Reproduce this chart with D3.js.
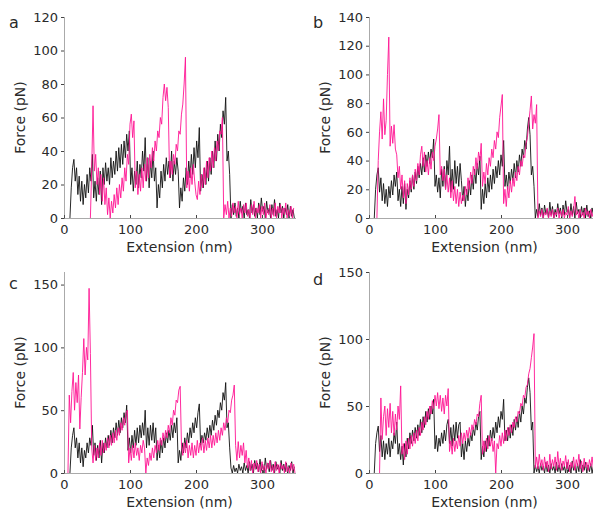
<!DOCTYPE html>
<html>
<head>
<meta charset="utf-8">
<script src="https://cdn.jsdelivr.net/npm/d3@7"></script>
<style>
  html, body { margin: 0; padding: 0; background: #fff; }
  svg { display: block; }
  text { font-family: "DejaVu Sans", sans-serif; fill: #2a2a2a; }
</style>
</head>
<body>
<svg id="chart" width="593" height="510"></svg>
<script>
// Force–extension traces, sampled every 2 nm from each trace's start extension.
const STEP = 2;

// Panel a
const aBlackStart = 9;
const aBlack = [0,18,30,35,22,30,14,25,10,22,8,20,12,26,15,30,22,38,12,22,10,24,14,28,8,30,20,33,22,30,20,36,24,34,26,40,28,42,30,44,32,46,36,50,40,52,
  20,30,16,28,20,34,18,32,24,40,28,48,22,36,18,34,24,40,22,30,6,20,12,28,18,32,22,36,26,34,24,40,22,34,26,36,28,6,18,10,24,16,30,20,34,24,38,26,42,30,46,36,54,
  16,26,18,30,20,34,22,36,26,40,30,46,34,50,40,56,48,64,56,72,34,40,26,0,8,2,9,1,6,0,10,3,7,0,9,2,5,0,11,3,8,1,6,0,9,2,12,4,7,0,10,3,6,0,8,2,11,1,5,0,9,3,7,0,6,2,8,0,7,1,5,0];
const aPinkStart = 40;
const aPink = [0,30,67,28,38,20,30,14,26,10,24,8,18,2,12,0,10,3,14,6,18,8,20,12,24,16,30,22,38,32,56,62,48,58,18,28,14,26,16,30,18,32,22,36,24,38,30,42,34,46,40,52,48,60,56,72,80,70,78,66,
  24,34,26,38,32,44,40,52,50,62,68,80,96,18,28,16,30,20,32,22,14,11,22,14,26,18,30,20,34,24,36,28,40,30,42,34,46,40,52,50,60,
  0,8,2,10,0,6,1,9,3,7,0,10,2,6,0,8,3,9,1,5,0,8,2,10,0,6,3,8,0,7,2,9,0,5,2,8,0,6,1,9,0,7,3,8,0,6,2,9,0,5,1,7,0,6];

// Panel b
const bBlackStart = 8;
const bBlack = [0,20,30,35,18,28,12,24,10,20,8,22,14,26,16,30,22,32,12,20,8,22,10,24,6,20,14,26,18,30,20,32,24,36,28,38,30,42,32,44,36,46,38,48,42,55,
  22,30,18,28,14,34,22,36,20,40,30,50,18,34,20,40,24,36,22,38,26,12,22,8,20,12,26,16,30,20,34,24,38,30,43,6,20,10,24,14,28,18,30,20,34,24,36,28,40,30,44,36,54,
  22,30,20,32,24,34,26,38,28,40,32,44,36,48,42,54,48,62,70,58,30,36,22,0,6,1,10,2,7,0,9,3,6,0,11,2,8,0,6,1,10,3,7,0,9,2,12,4,6,0,10,2,8,0,11,3,6,0,8,2,7,0,9,1,5,0,7,2];
const bPinkStart = 12;
const bPink = [0,40,60,74,55,83,58,68,100,126,50,64,52,65,48,44,28,36,20,30,14,26,10,24,16,28,20,30,22,34,26,38,30,44,50,36,46,32,40,30,42,34,46,40,50,55,62,72,
  30,36,26,34,20,30,18,28,14,26,12,22,10,20,8,18,10,16,12,22,16,28,20,32,24,36,30,42,34,46,40,52,22,32,24,38,30,42,36,48,42,54,48,60,56,70,78,86,
  10,20,8,22,14,26,18,28,22,32,26,36,30,40,36,44,42,52,56,66,75,85,62,72,66,79,0,5,1,6,0,4,2,7,0,5,1,6,0,4,2,7,0,5,1,6,0,4,2,8,0,5,1,6,15,2,5,0,6,1,4,0,7,2,5,0,6,1,4];

// Panel c
const cBlackStart = 9;
const cBlack = [0,20,30,36,20,28,12,24,8,20,5,18,12,24,16,28,22,38,14,24,10,22,12,26,8,24,16,28,20,30,22,34,24,36,28,40,30,42,32,44,36,48,40,54,
  18,28,16,30,20,34,22,36,24,38,28,40,30,50,20,36,22,38,26,40,24,36,10,22,12,26,16,28,20,32,24,34,26,38,28,40,32,44,8,18,10,24,16,28,20,32,24,36,28,40,32,44,36,48,55,
  22,30,24,32,26,36,28,38,30,42,34,46,38,50,44,56,50,64,58,72,36,40,20,4,0,6,1,4,0,7,2,5,0,8,2,6,0,9,2,7,0,10,3,8,1,11,2,7,0,12,3,8,1,10,2,7,0,9,3,6,0,10,2,7,1,8,0,6,2,9,0,5];
const cPinkStart = 6;
const cPink = [0,62,40,65,80,50,72,56,78,35,60,80,107,78,100,90,147,95,20,8,22,10,20,12,24,14,26,16,24,18,28,20,30,22,32,24,34,26,36,30,40,34,44,38,48,50,
  8,20,10,22,12,24,14,20,10,22,16,26,20,0,12,6,16,10,20,12,22,16,26,18,28,22,32,26,34,28,38,32,44,38,50,46,58,56,66,69,
  22,14,24,16,26,12,22,14,24,12,22,14,26,16,24,18,28,16,26,18,28,20,30,20,30,22,32,24,34,26,36,30,40,34,44,40,50,48,58,62,70,
  22,10,25,12,22,14,24,8,18,4,12,2,10,0,8,3,10,1,7,0,9,2,6,0,8,3,10,1,6,0,9,2,7,0,8,3,6,0,9,1,5,0,8,2,7,0];

// Panel d
const dBlackStart = 8;
const dBlack = [0,22,30,35,16,28,12,24,10,22,14,26,12,24,18,30,22,38,14,22,10,20,6,22,12,26,18,30,22,32,24,34,26,36,28,40,30,42,34,46,38,48,40,50,44,55,
  18,28,16,26,20,30,22,32,24,36,40,22,34,20,36,24,38,26,36,38,12,22,10,24,16,26,20,30,24,34,28,38,32,42,46,10,20,12,24,16,28,20,32,24,34,26,38,30,42,34,46,40,55,
  24,32,24,34,26,36,28,40,32,42,34,46,38,50,44,56,52,64,71,60,32,38,0,6,1,5,0,7,2,5,0,8,1,6,0,7,2,5,0,8,1,6,0,7,2,5,0,8,1,6,0,9,2,5,0,7,1,10,0,6,2,8,0,6,1,7,0,5];
const dPinkStart = 16;
const dPink = [0,56,25,42,50,28,48,34,52,30,46,28,44,32,50,40,65,14,22,10,24,14,26,18,28,20,30,22,32,24,34,28,38,32,42,36,46,40,50,44,54,48,58,50,60,48,58,46,56,44,58,50,63,
  16,24,14,26,16,24,18,28,20,30,22,30,24,32,26,34,28,36,32,40,36,44,42,52,58,14,24,16,26,18,28,20,26,16,24,0,22,18,28,20,30,22,32,24,34,28,36,30,38,34,42,38,46,44,52,50,58,56,64,66,74,78,86,94,104,
  4,12,3,14,5,10,2,12,4,9,1,14,3,10,5,12,2,16,4,11,2,9,5,13,3,10,1,8,4,12,2,10,5,14,3,9,1,11,4,8,2,10,5,12,3];

// Tick values
const xTickValues = [0, 100, 200, 300];
const aYTicks = [0, 20, 40, 60, 80, 100, 120];
const bYTicks = [0, 20, 40, 60, 80, 100, 120, 140];
const cYTicks = [0, 50, 100, 150];
const dYTicks = [0, 50, 100, 150];

const xLabel = "Extension (nm)";
const yLabel = "Force (pN)";

const BLACK = "#111111";
const PINK = "#ff1493";

const panels = [
  { letter: "a", left: 64,  top: 17,  yMax: 120, yTicks: aYTicks, letterX: 9,   letterY: 28,
    traces: [[aBlackStart, aBlack, BLACK], [aPinkStart, aPink, PINK]] },
  { letter: "b", left: 369, top: 17,  yMax: 140, yTicks: bYTicks, letterX: 313, letterY: 28,
    traces: [[bBlackStart, bBlack, BLACK], [bPinkStart, bPink, PINK]] },
  { letter: "c", left: 64,  top: 272, yMax: 160, yTicks: cYTicks, letterX: 9,   letterY: 289,
    traces: [[cBlackStart, cBlack, BLACK], [cPinkStart, cPink, PINK]] },
  { letter: "d", left: 369, top: 272, yMax: 150, yTicks: dYTicks, letterX: 313, letterY: 285,
    traces: [[dBlackStart, dBlack, BLACK], [dPinkStart, dPink, PINK]] }
];

const W = 231, H = 201;
const svg = d3.select("#chart");

panels.forEach((p, pi) => {
  const g = svg.append("g").attr("transform", `translate(${p.left},${p.top})`);
  const x = d3.scaleLinear().domain([0, 350]).range([0, W]);
  const y = d3.scaleLinear().domain([0, p.yMax]).range([H, 0]);

  const clipId = "clip" + pi;
  g.append("clipPath").attr("id", clipId)
    .append("rect").attr("x", 0).attr("y", -1).attr("width", W + 1).attr("height", H + 1);

  const line = d3.line().x(d => x(d[0])).y(d => y(d[1]));
  const plot = g.append("g").attr("clip-path", `url(#${clipId})`);
  p.traces.forEach(([start, vals, color]) => {
    const pts = vals.map((v, i) => [start + i * STEP, v]);
    plot.append("path")
      .datum(pts)
      .attr("fill", "none")
      .attr("stroke", color)
      .attr("stroke-width", 0.9)
      .attr("stroke-linejoin", "miter")
      .attr("d", line);
  });

  // axes
  const xAxis = d3.axisBottom(x).tickValues(xTickValues).tickSizeInner(-3).tickSizeOuter(0).tickPadding(7);
  const yAxis = d3.axisLeft(y).tickValues(p.yTicks).tickSizeInner(3).tickSizeOuter(0).tickPadding(3);

  const gx = g.append("g").attr("transform", `translate(0,${H})`).call(xAxis);
  const gy = g.append("g").call(yAxis);
  [gx, gy].forEach(ax => {
    ax.select(".domain").attr("stroke", "#555").attr("stroke-width", 1).attr("stroke-dasharray", "1 1");
    ax.selectAll(".tick line").attr("stroke", "#444");
    ax.selectAll(".tick text").style("font-family", "DejaVu Sans, sans-serif").style("font-size", "13px").attr("fill", "#333");
  });

  // axis titles
  g.append("text")
    .attr("transform", `translate(${-39},${H / 2}) rotate(-90)`)
    .attr("text-anchor", "middle")
    .style("font-size", "14px")
    .text(yLabel);
  g.append("text")
    .attr("x", W / 2).attr("y", H + 34)
    .attr("text-anchor", "middle")
    .style("font-size", "14px")
    .text(xLabel);

  svg.append("text")
    .attr("x", p.letterX).attr("y", p.letterY)
    .style("font-size", "16px")
    .attr("fill", "#000")
    .text(p.letter);
});
</script>
</body>
</html>
